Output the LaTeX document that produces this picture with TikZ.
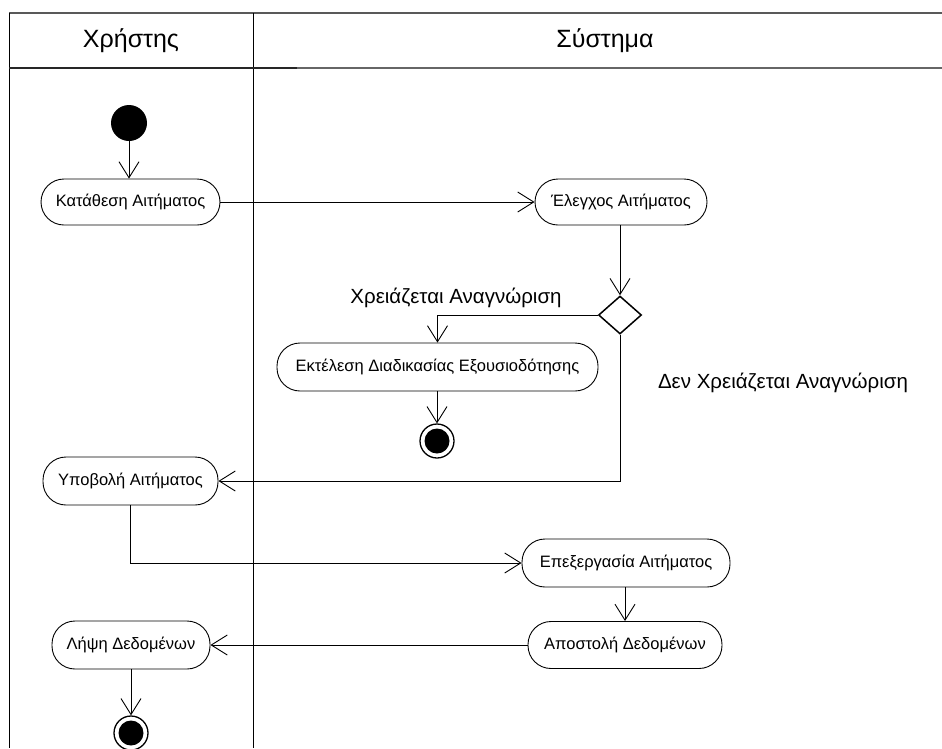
\documentclass[tikz,border=0pt]{standalone}
\usepackage{fontspec}
\setmainfont{Liberation Sans}
\usetikzlibrary{arrows.meta,shapes.geometric,calc}

\begin{document}
\begin{tikzpicture}[x=1pt,y=-1pt,
  activity/.style={draw=black, line width=0.9pt, rounded corners=23pt,
    inner sep=0pt, font=\fontsize{16.5}{19}\selectfont},
  decision/.style={diamond, draw=black, line width=1.5pt, inner sep=0pt,
    minimum width=43pt, minimum height=38pt},
  startnode/.style={circle, fill=black, inner sep=0pt, minimum size=36pt},
  endnode/.style={circle, draw=black, line width=1.3pt, inner sep=0pt,
    minimum size=34pt,
    path picture={\fill[black] (path picture bounding box.center) circle (12.5pt);}},
  flow/.style={draw=black, line width=0.9pt,
    -{Straight Barb[length=16pt, width=20pt, line width=0.9pt]}},
  guard/.style={font=\fontsize{20.5}{24}\selectfont},
  lanetitle/.style={font=\fontsize{25}{29}\selectfont}
]
\useasboundingbox (0,0) rectangle (942,748);

% swimlane frame
\draw[gray!70!black, line width=1.2pt] (9,13) -- (942,13);
\draw[black, line width=1pt] (9,13) -- (9,748);
\draw[black, line width=1pt] (253,13) -- (253,748);
\draw[black!85, line width=1.2pt] (9,68) -- (297,68);
\draw[gray!80!black, line width=1.2pt] (297,68) -- (942,68);
\node[lanetitle] (laneU) at (131,41) {Χρήστης};
\node[lanetitle] (laneS) at (605,41) {Σύστημα};

% activities
\node[startnode] (start) at (129,123) {};
\node[activity, minimum width=179pt, minimum height=46pt] (kat) at (130.5,202) {Κατάθεση Αιτήματος};
\node[activity, minimum width=172pt, minimum height=46pt] (ele) at (621,202) {Έλεγχος Αιτήματος};
\node[decision] (dia) at (620,315) {};
\node[activity, minimum width=321pt, minimum height=48pt] (ekt) at (437.5,367) {Εκτέλεση Διαδικασίας Εξουσιοδότησης};
\node[endnode] (end1) at (437,441) {};
\node[activity, minimum width=175pt, minimum height=48pt] (ypo) at (130.5,481) {Υποβολή Αιτήματος};
\node[activity, minimum width=208pt, minimum height=48pt] (epe) at (626,563) {Επεξεργασία Αιτήματος};
\node[activity, minimum width=194pt, minimum height=47pt] (apo) at (625,645) {Αποστολή Δεδομένων};
\node[activity, minimum width=158pt, minimum height=48pt] (lip) at (131,645) {Λήψη Δεδομένων};
\node[endnode] (end2) at (131,733) {};

% guard labels
\node[guard] (gyes) at (456,298) {Χρειάζεται Αναγνώριση};
\node[guard] (gno) at (783,383) {Δεν Χρειάζεται Αναγνώριση};

% control flow
\draw[flow] (start.south) -- (start.south |- kat.north);
\draw[flow] (kat.east) -- (ele.west);
\draw[flow] (ele.south -| dia.north) -- (dia.north);
\draw[flow] (dia.west) -| (ekt.north);
\draw[flow] (ekt.south -| end1.north) -- (end1.north);
\draw[flow] (dia.south) |- (ypo.east);
\draw[flow] (ypo.south) |- (epe.west);
\draw[flow] (epe.south -| apo.north) -- (apo.north);
\draw[flow] (apo.west) -- (lip.east);
\draw[flow] (lip.south) -- (end2.north);
\end{tikzpicture}
\end{document}
